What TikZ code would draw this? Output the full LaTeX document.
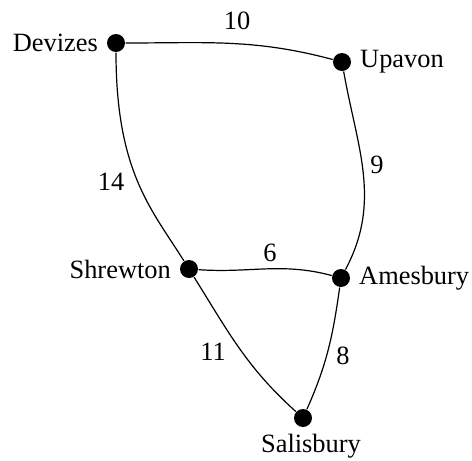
\documentclass[tikz,border=0pt]{standalone}
\usepackage{fontspec}
\setmainfont{Liberation Serif}
\begin{document}
\begin{tikzpicture}[x=.5pt,y=-.5pt,line width=.6pt,
  every node/.style={font=\fontsize{13.2}{15}\selectfont},
  town/.style={circle,fill,inner sep=0pt,minimum size=9pt},
  every label/.style={inner sep=1pt,label distance=3pt,font=\fontsize{13.2}{15}\selectfont}]
  \path[use as bounding box] (0,0) rectangle (472,461);
  \node[town,label=left:Devizes] (Dv) at (116,43) {};
  \node[town,label=right:Upavon] (Up) at (342,62) {};
  \node[town,label=left:Shrewton] (Sh) at (189,269) {};
  \node[town,label=right:Amesbury] (Am) at (341,278) {};
  \node[town] (Sa) at (303,418) {};
  \node (SaName) at (311,446) {Salisbury};
  \draw (Dv) to[out=0,in=165] (Up);
  \draw (Dv) to[out=-90,in=122,out looseness=1.4,in looseness=.7] (Sh);
  \draw (Up) to[out=-80,in=62] (Am);
  \draw (Sh) to[out=-4,in=165] (Am);
  \draw (Sh) to[out=-58,in=138] (Sa);
  \draw (Am) to[out=-98,in=66] (Sa);
  \node (wDU) at (237,21) {10};
  \node (wUA) at (377,165) {9};
  \node (wDS) at (111,182) {14};
  \node (wSA) at (270,253) {6};
  \node (wSS) at (213,352) {11};
  \node (wAS) at (343,356) {8};
\end{tikzpicture}
\end{document}
